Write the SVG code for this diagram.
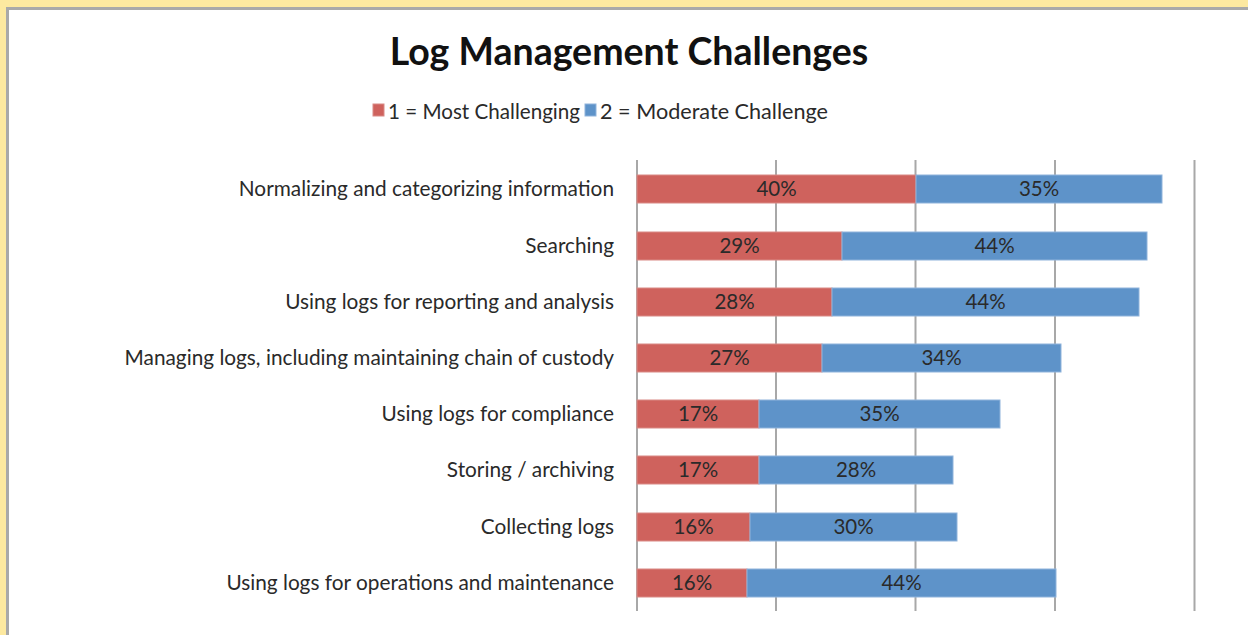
<svg xmlns="http://www.w3.org/2000/svg" width="1248" height="635" viewBox="0 0 1248 635">
<style>
.lbl{font-family:Lato,"Open Sans",sans-serif;font-size:20.8px;fill:#2a2a2a;text-anchor:end}
.val{font-family:Lato,"Open Sans",sans-serif;font-size:20.5px;fill:#2a2a2a;text-anchor:middle}
.leg{font-family:Lato,"Open Sans",sans-serif;font-size:20.8px;fill:#2a2a2a}
.r{fill:#cf625d;stroke:#d98a86;stroke-width:1}
.b{fill:#5e93c9;stroke:#8fb3db;stroke-width:1}
.grid{stroke:#a8a8a8;stroke-width:2}
</style>
<rect x="0" y="0" width="1248" height="635" fill="#fde9a0"/>
<rect x="6" y="7" width="1242" height="628" fill="#a9a9a9"/>
<rect x="9" y="10" width="1239" height="625" fill="#ffffff"/>
<text x="629" y="65" font-family="Lato,'Open Sans',sans-serif" font-weight="bold" font-size="37.5" fill="#111" text-anchor="middle">Log Management Challenges</text>
<g id="legend">
<rect x="373" y="104" width="11" height="12" class="r"/>
<text x="388" y="119" class="leg" textLength="192" lengthAdjust="spacingAndGlyphs">1 = Most Challenging</text>
<rect x="585" y="104" width="11" height="12" class="b"/>
<text x="600" y="119" class="leg" textLength="228" lengthAdjust="spacingAndGlyphs">2 = Moderate Challenge</text>
</g>
<g id="gridlines">
<line x1="637" y1="160" x2="637" y2="611" class="grid"/>
<line x1="776" y1="160" x2="776" y2="611" class="grid"/>
<line x1="915.5" y1="160" x2="915.5" y2="611" class="grid"/>
<line x1="1055" y1="160" x2="1055" y2="611" class="grid"/>
<line x1="1194.5" y1="160" x2="1194.5" y2="611" class="grid"/>
</g>
<g id="row1">
<text x="614" y="196" class="lbl">Normalizing and categorizing information</text>
<rect x="637" y="175" width="279" height="28" class="r"/>
<rect x="916" y="175" width="246" height="28" class="b"/>
<text x="776.5" y="196" class="val">40%</text>
<text x="1039" y="196" class="val">35%</text>
</g>
<g id="row2">
<text x="614" y="253" class="lbl">Searching</text>
<rect x="637" y="232" width="205" height="28" class="r"/>
<rect x="842" y="232" width="305" height="28" class="b"/>
<text x="739.5" y="253" class="val">29%</text>
<text x="994.5" y="253" class="val">44%</text>
</g>
<g id="row3">
<text x="614" y="309" class="lbl">Using logs for reporting and analysis</text>
<rect x="637" y="288" width="195" height="28" class="r"/>
<rect x="832" y="288" width="307" height="28" class="b"/>
<text x="734.5" y="309" class="val">28%</text>
<text x="985.5" y="309" class="val">44%</text>
</g>
<g id="row4">
<text x="614" y="365" class="lbl">Managing logs, including maintaining chain of custody</text>
<rect x="637" y="344" width="185" height="28" class="r"/>
<rect x="822" y="344" width="239" height="28" class="b"/>
<text x="729.5" y="365" class="val">27%</text>
<text x="941.5" y="365" class="val">34%</text>
</g>
<g id="row5">
<text x="614" y="421" class="lbl">Using logs for compliance</text>
<rect x="637" y="400" width="122" height="28" class="r"/>
<rect x="759" y="400" width="241" height="28" class="b"/>
<text x="698" y="421" class="val">17%</text>
<text x="879.5" y="421" class="val">35%</text>
</g>
<g id="row6">
<text x="614" y="477" class="lbl">Storing / archiving</text>
<rect x="637" y="456" width="122" height="28" class="r"/>
<rect x="759" y="456" width="194" height="28" class="b"/>
<text x="698" y="477" class="val">17%</text>
<text x="856" y="477" class="val">28%</text>
</g>
<g id="row7">
<text x="614" y="534" class="lbl">Collecting logs</text>
<rect x="637" y="513" width="113" height="28" class="r"/>
<rect x="750" y="513" width="207" height="28" class="b"/>
<text x="693.5" y="534" class="val">16%</text>
<text x="853.5" y="534" class="val">30%</text>
</g>
<g id="row8">
<text x="614" y="590" class="lbl">Using logs for operations and maintenance</text>
<rect x="637" y="569" width="110" height="28" class="r"/>
<rect x="747" y="569" width="309" height="28" class="b"/>
<text x="692" y="590" class="val">16%</text>
<text x="901.5" y="590" class="val">44%</text>
</g>
</svg>
